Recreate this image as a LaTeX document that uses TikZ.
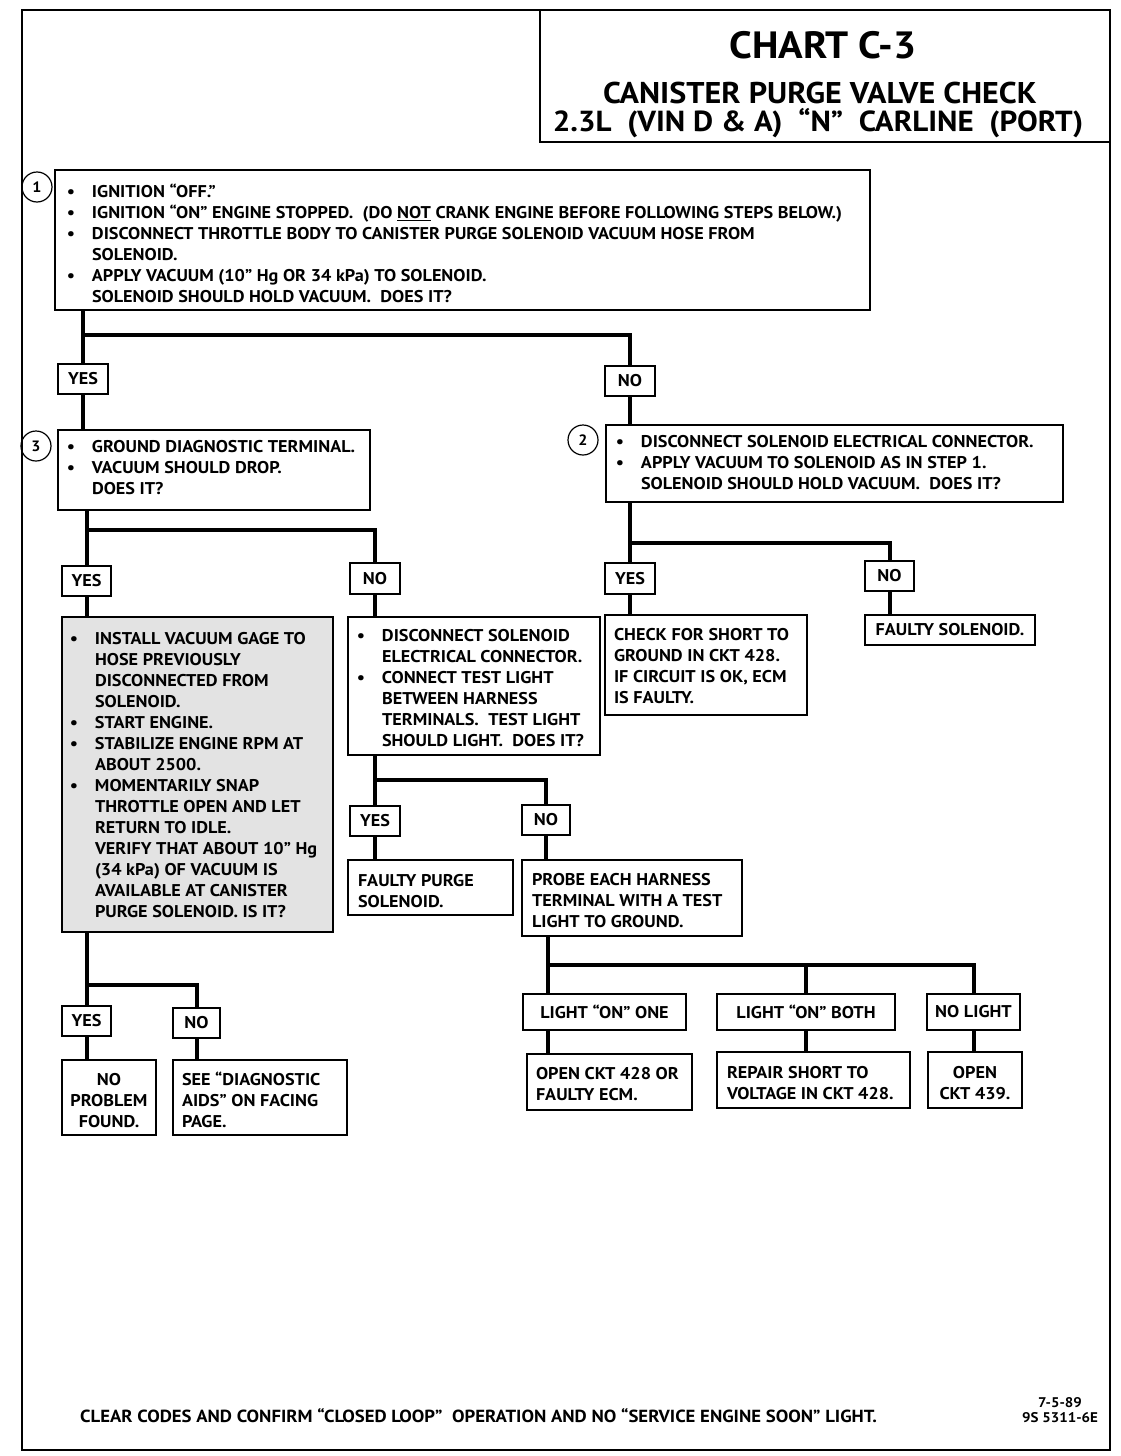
\documentclass[tikz,border=0pt]{standalone}
\usepackage{fontspec}
\setmainfont{PT Sans}[FakeStretch=1.07]
\newcommand\bu{\makebox[0pt][r]{\textbullet\hspace{17pt}}}
\newcommand\gp{\hspace{0.55em}}
\newcommand\bx[7][]{\node[box,#1,minimum width={(#5-#3)*1pt},minimum height={(#6-#4)*1pt}] (#2) at ({(#3+#5)/2},{(#4+#6)/2}) {#7};}
\tikzset{
  box/.style={draw,line width=1.4pt,inner sep=0pt,outer sep=0pt,font=\fontsize{17}{21}\selectfont\bfseries,align=center},
  txt/.style={inner sep=0pt,outer sep=0pt,align=left,anchor=north west,font=\fontsize{17}{21}\selectfont\bfseries},
  ctxt/.style={inner sep=0pt,outer sep=0pt,align=center,anchor=north,font=\fontsize{17}{21}\selectfont\bfseries},
  conn/.style={line width=4pt},
  num/.style={draw,circle,line width=1.2pt,minimum size=30pt,inner sep=0pt,font=\fontsize{15}{15}\selectfont\bfseries}
}
\begin{document}
\begin{tikzpicture}[x=1pt,y=-1pt]
\useasboundingbox (0,0) rectangle (1120,1456);
% frame
\draw[line width=2pt] (22,10) rectangle (1110,1450);
\draw[line width=1.6pt] (540,10) |- (1110,142);
\node (title) at (823,45) {\fontsize{38}{40}\selectfont\bfseries CHART C-3};
\node (sub1) at (820,93) {\fontsize{30}{32}\selectfont\bfseries CANISTER PURGE VALVE CHECK};
\node (sub2) at (818,123) {\fontsize{29}{32}\selectfont\bfseries 2.3L\ \ (VIN D \& A)\ \ “N”\ \ CARLINE\ \ (PORT)};

% boxes
\bx{b1}{55}{170}{870}{310}{}
\node[num] (c1) at (37,187) {1};
\node[txt] (t1) at (92,184) {\bu IGNITION “OFF.”\\
\bu IGNITION “ON” ENGINE STOPPED.\gp(DO \underline{NOT} CRANK ENGINE BEFORE FOLLOWING STEPS BELOW.)\\
\bu DISCONNECT THROTTLE BODY TO CANISTER PURGE SOLENOID VACUUM HOSE FROM\\
SOLENOID.\\
\bu APPLY VACUUM (10” Hg OR 34 kPa) TO SOLENOID.\\
SOLENOID SHOULD HOLD VACUUM.\gp DOES IT?};

\bx{y1}{58}{364}{108}{394}{YES}
\bx{n1}{605}{366}{655}{396}{NO}

\bx{b3}{58}{430}{370}{510}{}
\node[num] (c3) at (36,446) {3};
\node[txt] (t3) at (92,440) {\bu GROUND DIAGNOSTIC TERMINAL.\\
\bu VACUUM SHOULD DROP.\\
DOES IT?};

\bx{b2}{606}{425}{1063}{502}{}
\node[num] (c2) at (583,440) {2};
\node[txt] (t2) at (641,435) {\bu DISCONNECT SOLENOID ELECTRICAL CONNECTOR.\\
\bu APPLY VACUUM TO SOLENOID AS IN STEP 1.\\
SOLENOID SHOULD HOLD VACUUM.\gp DOES IT?};

\bx{y3}{62}{566}{111}{596}{YES}
\bx{n3}{350}{563}{400}{594}{NO}
\bx{y2}{605}{563}{655}{594}{YES}
\bx{n2}{865}{561}{914}{591}{NO}

\bx[fill=black!11]{b4}{62}{617}{333}{932}{}
\node[txt] (t4) at (95,632) {\bu INSTALL VACUUM GAGE TO\\
HOSE PREVIOUSLY\\
DISCONNECTED FROM\\
SOLENOID.\\
\bu START ENGINE.\\
\bu STABILIZE ENGINE RPM AT\\
ABOUT 2500.\\
\bu MOMENTARILY SNAP\\
THROTTLE OPEN AND LET\\
RETURN TO IDLE.\\
VERIFY THAT ABOUT 10” Hg\\
(34 kPa) OF VACUUM IS\\
AVAILABLE AT CANISTER\\
PURGE SOLENOID.  IS IT?};

\bx{b5}{348}{617}{600}{755}{}
\node[txt] (t5) at (382,629) {\bu DISCONNECT SOLENOID\\
ELECTRICAL CONNECTOR.\\
\bu CONNECT TEST LIGHT\\
BETWEEN HARNESS\\
TERMINALS.\gp TEST LIGHT\\
SHOULD LIGHT.\gp DOES IT?};

\bx{b6}{605}{615}{807}{715}{}
\node[txt] (t6) at (614,628) {CHECK FOR SHORT TO\\
GROUND IN CKT 428.\\
IF CIRCUIT IS OK, ECM\\
IS FAULTY.};

\bx{b7}{865}{615}{1035}{645}{FAULTY SOLENOID.}

\bx{y4}{62}{1006}{111}{1036}{YES}
\bx{n4}{173}{1008}{220}{1038}{NO}
\bx{b8}{62}{1060}{156}{1135}{}
\node[ctxt] (t8) at (109,1073) {NO\\PROBLEM\\FOUND.};
\bx{b9}{173}{1060}{347}{1135}{}
\node[txt] (t9) at (182,1072) {SEE “DIAGNOSTIC\\
AIDS” ON FACING\\
PAGE.};

\bx{y5}{350}{806}{400}{836}{YES}
\bx{n5}{522}{805}{570}{835}{NO}
\bx{b10}{348}{860}{513}{915}{}
\node[txt] (t10) at (358,874) {FAULTY PURGE\\SOLENOID.};
\bx{b11}{522}{860}{742}{936}{}
\node[txt] (t11) at (532,873) {PROBE EACH HARNESS\\
TERMINAL WITH A TEST\\
LIGHT TO GROUND.};

\bx{l1}{523}{994}{686}{1030}{LIGHT “ON” ONE}
\bx{l2}{717}{994}{895}{1030}{LIGHT “ON” BOTH}
\bx{l3}{927}{994}{1020}{1030}{NO LIGHT}
\bx{r1}{527}{1054}{692}{1110}{}
\node[txt] (tr1) at (536,1067) {OPEN CKT 428 OR\\FAULTY ECM.};
\bx{r2}{717}{1052}{910}{1108}{}
\node[txt] (tr2) at (727,1066) {REPAIR SHORT TO\\VOLTAGE IN CKT 428.};
\bx{r3}{928}{1052}{1022}{1108}{}
\node[ctxt] (tr3) at (975,1066) {OPEN\\CKT 439.};

% junction levels
\coordinate (j1) at (0,335);
\coordinate (j2) at (0,530);
\coordinate (j3) at (0,543);
\coordinate (j4) at (0,985);
\coordinate (j5) at (0,780);
\coordinate (j6) at (0,965);

% connectors
\draw[conn] (b1.south -| y1) -- (y1.north);
\draw[conn] (y1 |- j1) -| (n1.north);
\draw[conn] (y1.south) -- (b3.north -| y1);
\draw[conn] (n1.south) -- (b2.north -| n1);

\draw[conn] (b3.south -| y3) -- (y3.north);
\draw[conn] (y3 |- j2) -| (n3.north);
\draw[conn] (y3.south) -- (b4.north -| y3);
\draw[conn] (n3.south) -- (b5.north -| n3);

\draw[conn] (b2.south -| y2) -- (y2.north);
\draw[conn] (y2 |- j3) -| (n2.north);
\draw[conn] (y2.south) -- (b6.north -| y2);
\draw[conn] (n2.south) -- (b7.north -| n2);

\draw[conn] (b4.south -| y4) -- (y4.north);
\draw[conn] (y4 |- j4) -| (n4.north);
\draw[conn] (y4.south) -- (b8.north -| y4);
\draw[conn] (n4.south) -- (b9.north -| n4);

\draw[conn] (b5.south -| y5) -- (y5.north);
\draw[conn] (y5 |- j5) -| (n5.north);
\draw[conn] (y5.south) -- (b10.north -| y5);
\draw[conn] (n5.south) -- (b11.north -| n5);

\draw[conn] (b11.south -| 548,0) -- (l1.north -| 548,0);
\draw[conn] (548,965) -| (l3.north);
\draw[conn] (l2 |- j6) -- (l2.north);
\draw[conn] (l1.south -| 548,0) -- (r1.north -| 548,0);
\draw[conn] (l2.south) -- (r2.north -| l2);
\draw[conn] (l3.south) -- (r3.north -| l3);

% footer
\node[anchor=west,inner sep=0pt] (foot) at (80,1416) {\fontsize{17.5}{18}\selectfont\bfseries CLEAR CODES AND CONFIRM “CLOSED LOOP”\ \ OPERATION AND NO “SERVICE ENGINE SOON” LIGHT.};
\node[align=center,inner sep=0pt,font=\fontsize{14}{15}\selectfont\bfseries] (ref) at (1060,1410) {7-5-89\\9S 5311-6E};
\end{tikzpicture}
\end{document}
